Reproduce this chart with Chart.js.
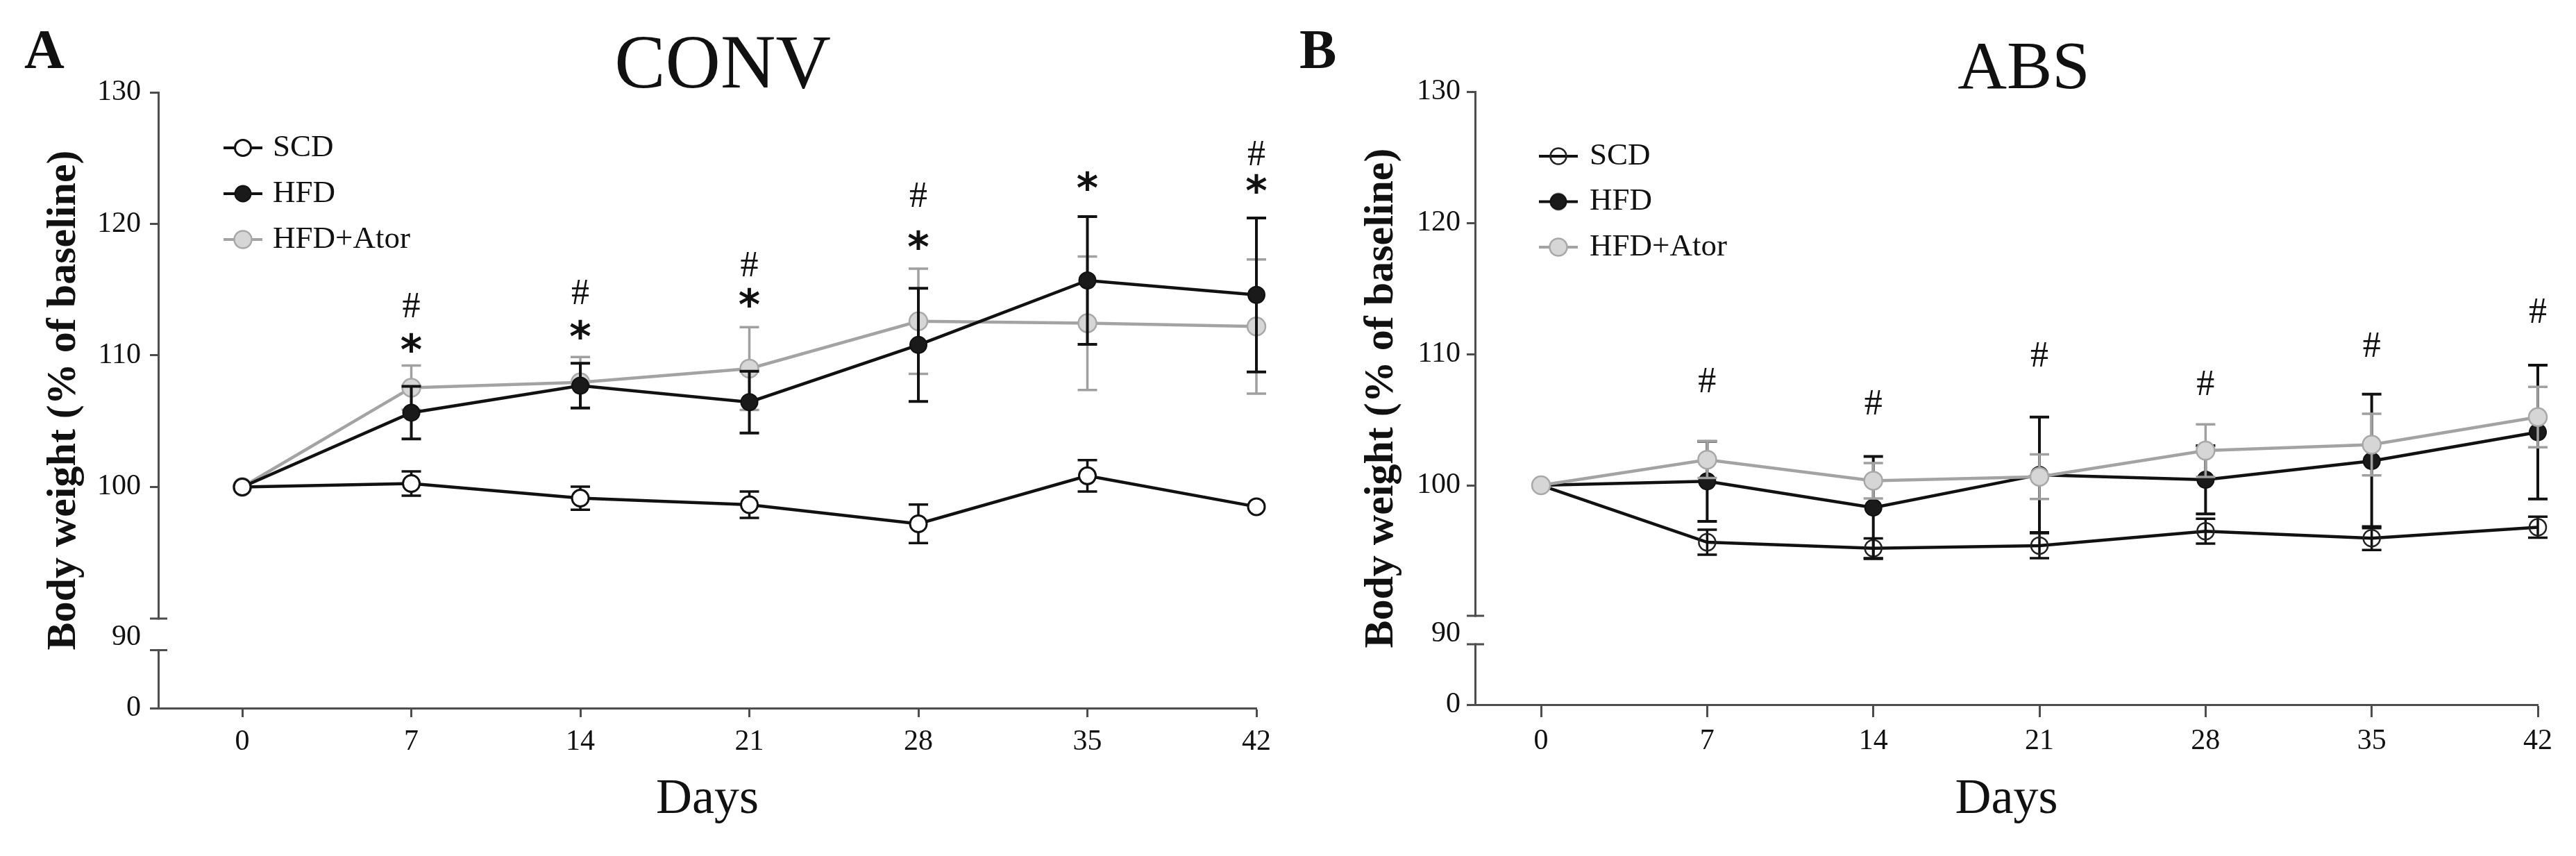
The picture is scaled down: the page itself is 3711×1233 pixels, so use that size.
<!DOCTYPE html>
<html><head><meta charset="utf-8">
<script src="https://cdn.jsdelivr.net/npm/chart.js@4.4.1/dist/chart.umd.min.js"></script>
<style>
html,body{margin:0;padding:0;background:#fff;width:3711px;height:1233px;overflow:hidden;}
canvas{position:absolute;top:0;}
#cA{left:0px}
#cB{left:1855px}
.lbl{position:absolute;font-family:"Liberation Serif",serif;font-weight:bold;font-size:80px;line-height:80px;color:#111;}
</style></head><body>
<div class="lbl" style="left:35px;top:31px">A</div>
<div class="lbl" style="left:1872px;top:31px">B</div>
<canvas id="cA" width="1855" height="1233"></canvas>
<canvas id="cB" width="1856" height="1233"></canvas>
<script>
// ---------- data ----------
const days = [0, 7, 14, 21, 28, 35, 42];
const dayTickLabels = ['0', '7', '14', '21', '28', '35', '42'];
const yTickLabels = ['0', '90', '100', '110', '120', '130'];
const seriesNames = ['SCD', 'HFD', 'HFD+Ator'];

// CONV
const convSCD     = [100, 100.26, 99.15, 98.65, 97.2, 100.85, 98.5];
const convSCDErr  = [0, 0.92, 0.88, 1.0, 1.46, 1.19, 0];
const convHFD     = [100, 105.65, 107.7, 106.45, 110.8, 115.7, 114.6];
const convHFDErr  = [0, 2.0, 1.7, 2.35, 4.3, 4.86, 5.85];
const convAtor    = [100, 107.55, 107.95, 109.0, 112.6, 112.45, 112.2];
const convAtorErr = [0, 1.68, 1.93, 3.15, 4.0, 5.07, 5.1];
const convStarDays = [7, 14, 21, 28, 35, 42];
const convStarY    = [110.95, 112.0, 114.4, 118.8, 123.25, 123.05];
const convHashDays = [7, 14, 21, 28, 42];
const convHashY    = [113.85, 114.85, 116.95, 122.2, 125.4];

// ABS
const absSCD     = [100, 95.66, 95.2, 95.4, 96.5, 95.97, 96.8];
const absSCDErr  = [0, 0.95, 0.75, 0.95, 0.95, 0.9, 0.8];
const absHFD     = [100, 100.3, 98.3, 100.8, 100.42, 101.85, 104.05];
const absHFDErr  = [0, 3.05, 3.9, 4.4, 2.6, 5.1, 5.1];
const absAtor    = [100, 101.95, 100.35, 100.65, 102.64, 103.1, 105.2];
const absAtorErr = [0, 1.4, 1.35, 1.7, 2.0, 2.35, 2.3];
const absHashDays = [7, 14, 21, 28, 35, 42];
const absHashY    = [108.0, 106.3, 110.0, 107.8, 110.7, 113.3];

// ---------- styling ----------
const AXIS = '#4d4d4d';
const INK = '#111111';
const SERIF = '"Liberation Serif", "Times New Roman", serif';
Chart.defaults.font.family = SERIF;
Chart.defaults.color = INK;

const errorBarPlugin = {
  id: 'errorBars',
  beforeDatasetDraw(chart, args) {
    const ds = chart.data.datasets[args.index];
    if (!ds.errors) return;
    const xs = chart.scales.x, ys = chart.scales.y, ctx = chart.ctx;
    ctx.save();
    ctx.strokeStyle = ds.errColor;
    ctx.lineWidth = ds.errWidth;
    ds.data.forEach((p, i) => {
      const e = ds.errors[i];
      if (!e) return;
      const px = xs.getPixelForValue(p.x);
      const t = ys.getPixelForValue(p.y + e), b = ys.getPixelForValue(p.y - e);
      const hw = 14;
      ctx.beginPath();
      ctx.moveTo(px, t); ctx.lineTo(px, b);
      ctx.moveTo(px - hw, t); ctx.lineTo(px + hw, t);
      ctx.moveTo(px - hw, b); ctx.lineTo(px + hw, b);
      ctx.stroke();
    });
    ctx.restore();
  }
};
Chart.register(errorBarPlugin);

function legendIcon(st) {
  const c = document.createElement('canvas');
  c.width = 60; c.height = 32;
  const g = c.getContext('2d');
  g.strokeStyle = st.line; g.lineWidth = 4;
  g.beginPath(); g.moveTo(2, 16); g.lineTo(58, 16); g.stroke();
  g.beginPath(); g.arc(30, 16, st.r - 0.5, 0, Math.PI * 2);
  g.fillStyle = st.fill; g.fill();
  g.lineWidth = st.pbw; g.strokeStyle = st.stroke; g.stroke();
  return c;
}

function buildChart(id, cfg) {
  const datasets = cfg.series.map(s => ({
    label: s.name,
    data: days.map((d, i) => ({ x: d, y: s.values[i] })),
    errors: s.errors,
    errColor: s.style.err,
    errWidth: s.style.errW,
    borderColor: s.style.line,
    borderWidth: 4.5,
    backgroundColor: s.style.fill,
    pointBackgroundColor: s.style.fill,
    pointBorderColor: s.style.stroke,
    pointBorderWidth: s.style.pbw,
    pointRadius: s.style.r,
    pointHoverRadius: s.style.r,
    tension: 0,
    clip: false,
    order: s.order,
    iconStyle: s.style
  }));

  const layoutPlugin = {
    id: 'panelExtras_' + id,
    afterLayout(chart) {
      const lg = chart.legend;
      if (lg) { lg.left = cfg.legLeft; lg.top = cfg.legTop; }
      const tb = chart.titleBlock;
      if (tb) { tb.left += cfg.titleShift; tb.right += cfg.titleShift; }
    },
    afterDraw(chart) {
      const ctx = chart.ctx, ys = chart.scales.y, xs = chart.scales.x;
      const x0 = chart.chartArea.left;
      const pHi = ys.getPixelForValue(cfg.breakHi), pLo = ys.getPixelForValue(cfg.breakLo);
      ctx.save();
      ctx.fillStyle = '#ffffff';
      ctx.fillRect(x0 - 4, pHi + 1.5, 8, pLo - pHi - 3);
      ctx.strokeStyle = AXIS; ctx.lineWidth = 3;
      ctx.beginPath();
      ctx.moveTo(x0 - 12, pHi); ctx.lineTo(x0 + 13, pHi);
      ctx.moveTo(x0 - 12, pLo); ctx.lineTo(x0 + 13, pLo);
      ctx.stroke();
      // significance marks
      const drawMark = (ch, font, dx, vy) => {
        ctx.font = font;
        ctx.textAlign = 'center';
        ctx.textBaseline = 'alphabetic';
        const m = ctx.measureText(ch);
        const px = xs.getPixelForValue(dx);
        const py = ys.getPixelForValue(vy) + (m.actualBoundingBoxAscent - m.actualBoundingBoxDescent) / 2;
        ctx.fillStyle = INK;
        ctx.fillText(ch, px, py);
      };
      cfg.stars.days.forEach((d, i) => drawMark('*', 'bold 60px "DejaVu Sans"', d, cfg.stars.y[i]));
      cfg.hashes.days.forEach((d, i) => drawMark('#', '52px ' + SERIF, d, cfg.hashes.y[i]));
      ctx.restore();
    }
  };

  return new Chart(document.getElementById(id), {
    type: 'line',
    data: { datasets },
    plugins: [layoutPlugin],
    options: {
      responsive: false,
      animation: false,
      devicePixelRatio: 1,
      events: [],
      layout: { padding: { left: 0, right: cfg.padRight, top: 0, bottom: 0 } },
      plugins: {
        tooltip: { enabled: false },
        title: {
          display: true, text: cfg.title, fullSize: false, color: INK,
          font: { family: SERIF, size: cfg.titleSize, weight: 'normal', lineHeight: cfg.titleLH },
          padding: { top: cfg.titleTop, bottom: 0 }
        },
        legend: {
          position: 'chartArea', align: 'start',
          labels: {
            usePointStyle: true,
            pointStyleWidth: cfg.legBox,
            padding: cfg.legPad,
            color: INK,
            font: { family: SERIF, size: 45 },
            generateLabels: (chart) => chart.data.datasets.map((ds, i) => ({
              text: ds.label,
              pointStyle: legendIcon(ds.iconStyle),
              fillStyle: ds.iconStyle.fill,
              strokeStyle: ds.iconStyle.stroke,
              lineWidth: 0,
              hidden: false,
              datasetIndex: i,
              fontColor: INK
            }))
          }
        }
      },
      scales: {
        x: {
          type: 'linear', min: cfg.xMin, max: 42,
          afterFit: (s) => { s.height = cfg.xAxisH; },
          afterBuildTicks: (s) => { s.ticks = days.map(v => ({ value: v })); },
          ticks: {
            callback: (v, i) => dayTickLabels[i],
            autoSkip: false, maxRotation: 0, minRotation: 0,
            padding: cfg.xTickPad, color: INK,
            font: { family: SERIF, size: 42 }
          },
          grid: { drawOnChartArea: false, tickLength: cfg.xTickLen, tickWidth: 3, tickColor: AXIS },
          border: { color: AXIS, width: 3 },
          title: {
            display: true, text: 'Days', color: INK,
            font: { family: SERIF, size: 72, lineHeight: 1.2 },
            padding: { top: 0, bottom: 38 }
          }
        },
        y: {
          type: 'linear', min: cfg.yMin, max: 130,
          afterFit: (s) => { s.width = cfg.axisW; },
          afterBuildTicks: (s) => { s.ticks = cfg.yTicks.map(v => ({ value: v })); },
          ticks: {
            callback: (v, i) => yTickLabels[i],
            autoSkip: false,
            padding: cfg.yTickPad, color: INK,
            font: { family: SERIF, size: 42 }
          },
          grid: {
            drawOnChartArea: false, tickLength: 12, tickWidth: 3,
            tickColor: (c) => (c.index === 1 ? 'rgba(0,0,0,0)' : AXIS)
          },
          border: { color: AXIS, width: 3 },
          title: {
            display: true, text: 'Body weight (% of baseline)', color: INK,
            font: { family: SERIF, size: 60, weight: 'bold', lineHeight: 1.2 },
            padding: { top: cfg.yTitlePad, bottom: 0 }
          }
        }
      }
    }
  });
}

const styleSCDa  = { line: INK, fill: '#ffffff', stroke: INK, pbw: 3, r: 12, err: INK, errW: 3.5 };
const styleSCDb  = { line: INK, fill: 'rgba(255,255,255,0)', stroke: '#222222', pbw: 2.5, r: 12, err: INK, errW: 3.5 };
const styleHFD   = { line: INK, fill: '#1a1a1a', stroke: INK, pbw: 2, r: 12, err: INK, errW: 4 };
const styleAtor  = { line: '#a3a3a3', fill: '#d6d6d6', stroke: '#a8a8a8', pbw: 2.5, r: 13, err: '#a0a0a0', errW: 3.5 };

buildChart('cA', {
  title: 'CONV', titleSize: 110, titleLH: 0.65, titleTop: 61.5, titleShift: 22,
  padRight: 45, axisW: 228, xAxisH: 213, xMin: -3.48, yMin: 83.19,
  yTicks: [83.19, 88.6, 100, 110, 120, 130],
  breakHi: 90, breakLo: 87.6,
  yTickPad: 13, xTickLen: 13, xTickPad: 11, yTitlePad: 56,
  legBox: 41, legPad: 21, legLeft: 308.5, legTop: 169.5,
  stars: { days: convStarDays, y: convStarY },
  hashes: { days: convHashDays, y: convHashY },
  series: [
    { name: seriesNames[0], values: convSCD, errors: convSCDErr, style: styleSCDa, order: 0 },
    { name: seriesNames[1], values: convHFD, errors: convHFDErr, style: styleHFD, order: 1 },
    { name: seriesNames[2], values: convAtor, errors: convAtorErr, style: styleAtor, order: 2 }
  ]
});

buildChart('cB', {
  title: 'ABS', titleSize: 98, titleLH: 0.633, titleTop: 70, titleShift: 25,
  padRight: 55, axisW: 270, xAxisH: 218, xMin: -2.78, yMin: 83.28,
  yTicks: [83.28, 88.68, 100, 110, 120, 130],
  breakHi: 90.05, breakLo: 87.88,
  yTickPad: 9, xTickLen: 18, xTickPad: 10, yTitlePad: 99,
  legBox: 45, legPad: 20.5, legLeft: 347, legTop: 182,
  stars: { days: [], y: [] },
  hashes: { days: absHashDays, y: absHashY },
  series: [
    { name: seriesNames[0], values: absSCD, errors: absSCDErr, style: styleSCDb, order: 2 },
    { name: seriesNames[1], values: absHFD, errors: absHFDErr, style: styleHFD, order: 1 },
    { name: seriesNames[2], values: absAtor, errors: absAtorErr, style: styleAtor, order: 0 }
  ]
});
</script>
</body></html>
